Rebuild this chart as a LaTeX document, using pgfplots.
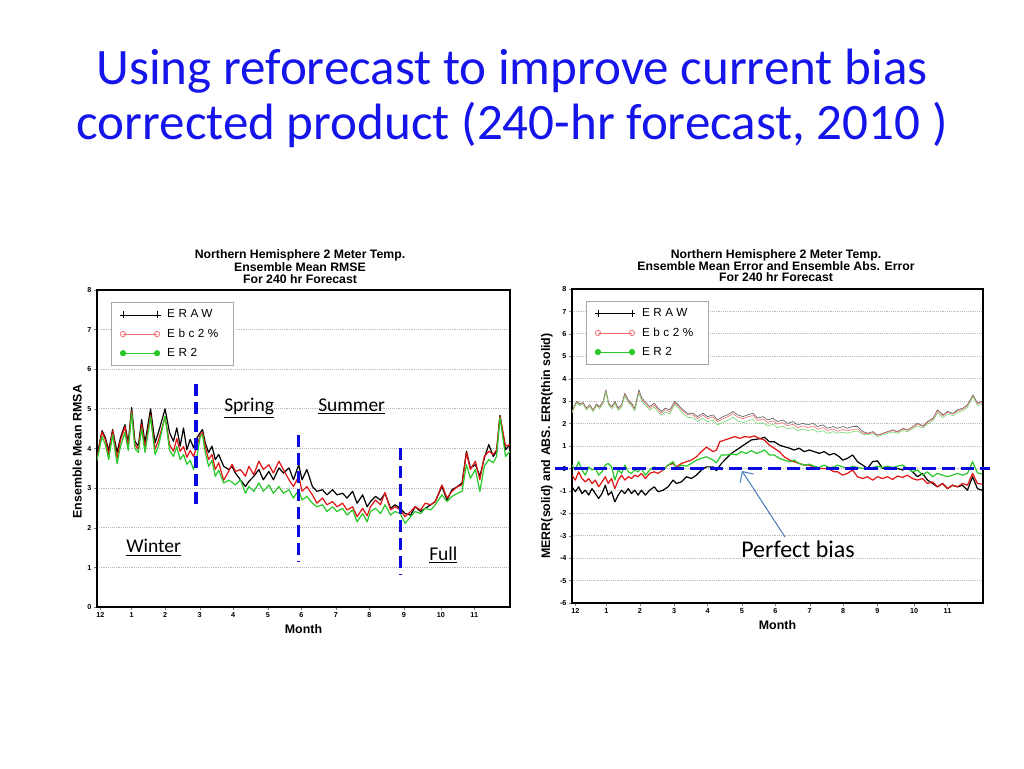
\documentclass[border=0pt]{standalone}
\usepackage{fontspec}
\usepackage{pgfplots}
\pgfplotsset{compat=1.18}
\usetikzlibrary{arrows.meta}
\setmainfont{Carlito}
\newfontfamily\gradsb{Liberation Sans}
\newfontfamily\gradsl[LetterSpace=30]{Liberation Sans}
\definecolor{ttl}{RGB}{20,20,235}
\definecolor{cred}{RGB}{225,20,20}
\definecolor{cgreen}{RGB}{40,200,40}
\definecolor{tred}{RGB}{240,110,110}
\definecolor{tgreen}{RGB}{110,215,110}
\definecolor{tgray}{RGB}{90,90,90}
\definecolor{dblue}{RGB}{10,10,225}
\definecolor{arrowblue}{RGB}{79,129,189}

\pgfplotsset{
 grads/.style={
  scale only axis,
  anchor=south west,
  xmin=-3, xmax=367,
  xtick={0,28,58,89,119,150,180,211,241,272,305,335},
  xticklabels={12,1,2,3,4,5,6,7,8,9,10,11},
  xtick pos=bottom, ytick pos=left,
  tick align=outside,
  major tick length=2.5pt,
  axis line style={line width=1pt},
  ymajorgrids,
  grid style={densely dotted, gray!55, line width=0.6pt},
  tick label style={font=\gradsb\bfseries\fontsize{5.4}{6}\selectfont, text height=4pt, text depth=0pt},
  xticklabel style={anchor=north, inner sep=1.5pt},
  yticklabel style={anchor=east, inner sep=1.5pt},
  /pgf/number format/assume math mode=true,
  xlabel={\gradsb\bfseries\fontsize{9.3}{10}\selectfont Month},
  xlabel style={at={(axis description cs:0.5,-0.069)}, anchor=center},
  legend cell align=left,
  legend image code/.code={\draw[#1] plot coordinates {(0pt,0pt) (25.5pt,0pt)};},
  legend style={at={(0.034,0.962)}, anchor=north west, draw=gray!70, line width=0.8pt,
    fill=white, font=\gradsl\fontsize{8.8}{9}\selectfont, inner xsep=6pt, inner ysep=3.5pt,
    row sep=2.6pt, nodes={inner xsep=5pt}},
  every axis plot/.append style={line join=round},
 }
}

\begin{document}
\begin{tikzpicture}
\useasboundingbox (0pt,0pt) rectangle (768pt,576pt);
\fill[white] (0pt,0pt) rectangle (768pt,576pt);

% ---------------- left panel ----------------
\begin{axis}[grads, at={(72.75pt,120.75pt)}, width=309.75pt, height=237.75pt,
  ymin=0, ymax=8, ytick={0,1,...,8},
  ylabel={\gradsb\bfseries\fontsize{9.3}{10}\selectfont Ensemble Mean RMSA},
  ylabel style={at={(axis description cs:-0.048,0.49)}, anchor=center}]
\addplot[black, line width=0.9pt, forget plot] coordinates {
(-3,3.80) (1.5,4.45) (4.5,4.27) (7.5,3.95) (11,4.48) (15,3.90) (18,4.27) (22,4.60) (25,4.14) (28,5.03) (31,4.18) (34,4.06) (37,4.73) (40,4.14) (45,5.00) (49,4.14) (52,4.40) (58,5.00) (62,4.40) (65.5,4.18) (68.5,4.52) (71.5,4.06) (74.5,4.52) (77.5,3.97) (80.5,4.23) (83.5,4.02) (86.5,4.27) (89.5,4.40) (91.5,4.48) (94,4.14) (97,3.90) (100,4.06) (103,3.72) (106,3.85) (110.5,3.55) (115,3.47) (118,3.55) (121,3.38) (125.5,3.21) (130,3.04) (133,3.17) (137.5,3.30) (142,3.47) (146,3.21) (151,3.42) (155,3.21) (160,3.51) (164,3.38) (169,3.51) (173,3.21) (177.7,3.59) (180.7,3.21) (185,3.47) (190,3.04) (194,2.92) (199,2.96) (203,2.83) (208,2.96) (212,2.83) (217,2.87) (221,2.75) (226,2.92) (230,2.62) (235,2.83) (239,2.53) (242,2.66) (246.5,2.79) (251,2.70) (255,2.87) (260,2.49) (264,2.58) (268.7,2.49) (273,2.36) (278,2.32) (282,2.53) (287,2.41) (291,2.49) (296,2.58) (300,2.66) (306,3.04) (310.6,2.70) (315,2.96) (320,3.04) (324,3.13) (328,3.93) (331.5,3.51) (336,3.59) (340,3.30) (344,3.76) (348,4.10) (352,3.80) (355,3.93) (358,4.84) (363,3.97) (367,4.10)};
\addplot[cred, line width=0.9pt, forget plot] coordinates {
(-3,3.75) (1.5,4.42) (4.5,4.22) (7.5,3.85) (11,4.45) (15,3.75) (18,4.20) (22,4.55) (25,4.05) (28,4.95) (31,4.10) (34,3.98) (37,4.62) (40,4.02) (45,4.85) (49,3.98) (52,4.20) (58,4.80) (62,4.10) (65.5,3.93) (68.5,4.25) (71.5,3.93) (74.5,4.05) (77.5,3.78) (80.5,3.95) (83.5,3.80) (86.5,4.05) (89.5,4.35) (91.5,4.40) (94,4.05) (97,3.72) (100,3.85) (103,3.47) (106,3.64) (110.5,3.20) (115,3.43) (118,3.60) (121,3.42) (125.5,3.47) (130,3.30) (133,3.55) (137.5,3.34) (142,3.68) (146,3.47) (151,3.59) (155,3.38) (160,3.68) (164,3.47) (169,3.21) (173,3.04) (177.7,3.30) (180.7,2.92) (185,3.04) (190,2.83) (194,2.62) (199,2.75) (203,2.58) (208,2.66) (212,2.53) (217,2.62) (221,2.45) (226,2.53) (230,2.28) (235,2.49) (239,2.30) (242,2.53) (246.5,2.70) (251,2.58) (255,2.89) (260,2.45) (264,2.53) (268.7,2.45) (273,2.28) (278,2.41) (282,2.53) (287,2.45) (291,2.62) (296,2.58) (300,2.66) (306,3.08) (310.6,2.75) (315,2.92) (320,3.04) (324,3.08) (328,3.89) (331.5,3.47) (336,3.68) (340,3.21) (344,3.80) (348,3.93) (352,3.85) (355,3.97) (358,4.82) (363,4.06) (367,4.10)};
\addplot[cgreen, line width=0.9pt, forget plot] coordinates {
(-3,3.70) (1.5,4.30) (4.5,4.10) (7.5,3.72) (11,4.35) (15,3.62) (18,4.05) (22,4.40) (25,3.95) (28,4.90) (31,4.00) (34,3.90) (37,4.50) (40,3.90) (45,4.80) (49,3.85) (52,4.05) (58,4.82) (62,3.95) (65.5,3.80) (68.5,4.05) (71.5,3.72) (74.5,3.85) (77.5,3.60) (80.5,3.70) (83.5,3.47) (86.5,3.80) (89.5,4.30) (91.5,4.35) (94,3.90) (97,3.55) (100,3.70) (103,3.30) (106,3.45) (110.5,3.13) (115,3.20) (118,3.15) (121,3.08) (125.5,3.21) (130,2.87) (133,3.04) (137.5,2.92) (142,3.13) (146,2.92) (151,3.08) (155,2.87) (160,3.04) (164,2.87) (169,2.96) (173,2.75) (177.7,2.96) (180.7,2.70) (185,2.79) (190,2.62) (194,2.53) (199,2.58) (203,2.41) (208,2.53) (212,2.41) (217,2.49) (221,2.32) (226,2.45) (230,2.15) (235,2.36) (239,2.15) (242,2.41) (246.5,2.49) (251,2.36) (255,2.58) (260,2.32) (264,2.41) (268.7,2.36) (273,2.11) (278,2.28) (282,2.41) (287,2.36) (291,2.49) (296,2.45) (300,2.58) (306,2.83) (310.6,2.66) (315,2.79) (320,2.87) (324,2.92) (328,3.59) (331.5,3.25) (336,3.47) (340,2.92) (344,3.55) (348,3.72) (352,3.64) (355,3.80) (358,4.78) (363,3.80) (367,3.93)};
\addlegendimage{black, line width=0.5pt, mark=+, mark size=2.6pt}
\addlegendentry{ERAW}
\addlegendimage{tred, line width=0.6pt, mark=o, mark size=2pt}
\addlegendentry{Ebc2\%}
\addlegendimage{cgreen, line width=0.6pt, mark=*, mark size=2pt}
\addlegendentry{ER2}
\end{axis}

% ---------------- right panel ----------------
\begin{axis}[grads, at={(429pt,123.75pt)}, width=308.25pt, height=235.5pt,
  ymin=-6, ymax=8, ytick={-6,-5,...,8},
  ylabel={\gradsb\bfseries\fontsize{9.3}{10}\selectfont MERR(solid) and ABS. ERR(thin solid)},
  ylabel style={at={(axis description cs:-0.061,0.5)}, anchor=center}]
\addplot[tgray, line width=0.45pt, forget plot] coordinates {
(-3,2.54) (1,2.99) (4,2.88) (7,2.94) (10,2.69) (13,2.84) (16,2.61) (19,2.88) (22,2.76) (25,2.99) (27.5,3.51) (30,2.91) (33,2.76) (35.6,2.99) (38.6,2.69) (41.6,2.84) (44.6,3.36) (47.6,3.06) (50.6,2.91) (53.5,2.69) (57.2,3.51) (60,3.13) (64,2.91) (67,2.76) (71,2.91) (74.5,2.69) (77.5,2.54) (81,2.69) (85,2.61) (89.5,2.99) (92.5,2.84) (97,2.61) (101,2.46) (106,2.46) (110,2.31) (115,2.46) (119,2.31) (124,2.39) (128,2.16) (133,2.31) (137,2.39) (142,2.54) (146,2.39) (151,2.31) (155,2.39) (160,2.46) (164,2.24) (169,2.31) (173,2.16) (178,2.24) (182,2.09) (187,2.16) (191,2.01) (196,2.09) (200,1.94) (205,2.01) (209,1.94) (214,2.01) (218,1.87) (223,1.94) (227,1.79) (232,1.87) (236,1.79) (241,1.87) (245,1.79) (250,1.87) (254,1.87) (259,1.64) (263,1.57) (268,1.64) (272,1.49) (277,1.57) (281,1.64) (286,1.72) (290,1.64) (295,1.79) (299,1.72) (304,1.87) (308,2.01) (313,1.90) (317,2.09) (322,2.24) (326,2.61) (331,2.39) (335,2.54) (340,2.46) (344,2.61) (349,2.69) (353,2.84) (358,3.28) (362,2.91) (366,2.99)};
\addplot[tred, line width=0.45pt, forget plot] coordinates {
(-3,2.50) (1,2.95) (4,2.85) (7,2.90) (10,2.66) (13,2.80) (16,2.58) (19,2.84) (22,2.72) (25,2.95) (27.5,3.46) (30,2.87) (33,2.72) (35.6,2.94) (38.6,2.64) (41.6,2.79) (44.6,3.30) (47.6,3.00) (50.6,2.85) (53.5,2.63) (57.2,3.42) (60,3.05) (64,2.84) (67,2.68) (71,2.84) (74.5,2.62) (77.5,2.47) (81,2.62) (85,2.52) (89.5,2.92) (92.5,2.78) (97,2.55) (101,2.40) (106,2.38) (110,2.22) (115,2.38) (119,2.22) (124,2.30) (128,2.08) (133,2.22) (137,2.30) (142,2.44) (146,2.30) (151,2.22) (155,2.30) (160,2.36) (164,2.14) (169,2.20) (173,2.05) (178,2.12) (182,1.98) (187,2.04) (191,1.90) (196,1.97) (200,1.82) (205,1.90) (209,1.82) (214,1.89) (218,1.75) (223,1.82) (227,1.68) (232,1.76) (236,1.66) (241,1.74) (245,1.68) (250,1.74) (254,1.76) (259,1.57) (263,1.55) (268,1.60) (272,1.47) (277,1.55) (281,1.62) (286,1.69) (290,1.62) (295,1.76) (299,1.70) (304,1.84) (308,1.98) (313,1.87) (317,2.05) (322,2.20) (326,2.56) (331,2.34) (335,2.50) (340,2.42) (344,2.57) (349,2.65) (353,2.80) (358,3.24) (362,2.87) (366,2.94)};
\addplot[tgreen, line width=0.45pt, forget plot] coordinates {
(-3,2.48) (1,2.92) (4,2.80) (7,2.86) (10,2.60) (13,2.76) (16,2.52) (19,2.80) (22,2.66) (25,2.90) (27.5,3.40) (30,2.82) (33,2.66) (35.6,2.90) (38.6,2.58) (41.6,2.74) (44.6,3.24) (47.6,2.94) (50.6,2.78) (53.5,2.56) (57.2,3.36) (60,2.98) (64,2.76) (67,2.60) (71,2.74) (74.5,2.52) (77.5,2.38) (81,2.52) (85,2.42) (89.5,2.86) (92.5,2.70) (97,2.44) (101,2.28) (106,2.26) (110,2.10) (115,2.24) (119,2.08) (124,2.15) (128,1.94) (133,2.06) (137,2.14) (142,2.28) (146,2.12) (151,2.04) (155,2.12) (160,2.18) (164,1.98) (169,2.04) (173,1.90) (178,1.96) (182,1.82) (187,1.88) (191,1.76) (196,1.82) (200,1.68) (205,1.76) (209,1.68) (214,1.74) (218,1.62) (223,1.68) (227,1.56) (232,1.64) (236,1.57) (241,1.62) (245,1.57) (250,1.64) (254,1.67) (259,1.52) (263,1.50) (268,1.55) (272,1.42) (277,1.50) (281,1.56) (286,1.63) (290,1.56) (295,1.70) (299,1.64) (304,1.78) (308,1.90) (313,1.80) (317,1.98) (322,2.12) (326,2.48) (331,2.27) (335,2.42) (340,2.36) (344,2.50) (349,2.58) (353,2.73) (358,3.20) (362,2.80) (366,2.86)};
\addplot[black, line width=0.9pt, forget plot] coordinates {
(-3,-0.82) (0,-1.04) (3,-0.82) (6,-1.12) (9,-0.97) (12,-1.19) (15,-0.90) (18,-1.12) (21,-1.34) (24,-1.12) (27,-0.75) (29.6,-1.19) (32.6,-1.04) (35.6,-1.49) (38.6,-1.19) (41.6,-0.97) (44.6,-1.12) (47.6,-0.90) (50.6,-1.12) (53.5,-0.97) (56.5,-1.19) (59.5,-0.97) (63,-1.19) (67,-0.97) (71,-0.82) (74.5,-1.04) (79,-0.97) (83.5,-0.82) (88,-0.52) (91,-0.67) (95.5,-0.60) (100,-0.37) (104.4,-0.45) (109,-0.30) (113.5,-0.07) (118,0.07) (124,0.07) (127,-0.10) (131.5,0.22) (136,0.45) (140.5,0.67) (145,0.82) (149.5,0.97) (154,1.12) (158.4,1.27) (163,1.30) (167.3,1.34) (170.3,1.39) (174.7,1.19) (179,1.19) (183.7,1.04) (188,0.97) (193,0.90) (197,0.82) (201.6,0.90) (206,0.75) (210.6,0.82) (215,0.75) (219.6,0.67) (224,0.75) (228.6,0.60) (233,0.67) (237.6,0.52) (240.6,0.37) (245,0.45) (249.6,0.60) (254,0.30) (258.6,0.15) (263,0.00) (267.6,0.30) (272,0.34) (276.6,0.00) (281,0.04) (285.6,-0.04) (290,0.00) (294.6,-0.07) (299,0.04) (303.6,-0.15) (308,-0.37) (312.6,-0.22) (317,-0.52) (321.6,-0.67) (326,-0.82) (330.6,-0.67) (335,-0.90) (339.6,-0.75) (344,-0.82) (348.6,-0.75) (353,-0.97) (357.6,-0.37) (362,-0.90) (366,-0.97)};
\addplot[cred, line width=0.9pt, forget plot] coordinates {
(-3,-0.30) (0,-0.52) (3,-0.15) (6,-0.45) (9,-0.60) (12,-0.45) (15,-0.67) (18,-0.52) (21,-0.82) (24,-0.60) (27,-0.37) (29.6,-0.67) (32.6,-0.45) (35.6,-0.90) (38.6,-0.52) (41.6,-0.30) (44.6,-0.52) (47.6,-0.37) (50.6,-0.45) (53.5,-0.30) (56.5,-0.37) (59.5,-0.22) (63,-0.45) (67,-0.22) (71,-0.15) (74.5,-0.22) (79,-0.07) (83.5,0.15) (88,0.22) (91,0.07) (95.5,0.22) (100,0.30) (104.4,0.37) (109,0.52) (113.5,0.75) (118,0.95) (124,0.75) (127,0.82) (130,1.19) (134.6,1.27) (139,1.34) (143.5,1.42) (148,1.34) (152.5,1.42) (157,1.39) (161,1.45) (165.8,1.34) (170,1.27) (174.7,1.04) (179,0.90) (183.7,0.75) (188,0.52) (193,0.37) (197,0.30) (201.6,0.22) (206,0.15) (210.6,0.15) (215,0.04) (219.6,0.00) (224,0.00) (228.6,-0.04) (233,-0.15) (236,-0.15) (240.6,-0.30) (245,-0.22) (249.6,-0.07) (254,-0.37) (258.6,-0.45) (263,-0.37) (267.6,-0.52) (272,-0.37) (276.6,-0.45) (281,-0.37) (285.6,-0.49) (290,-0.34) (294.6,-0.40) (299,-0.30) (303.6,-0.45) (308,-0.52) (312.6,-0.45) (317,-0.67) (321.6,-0.60) (326,-0.82) (330.6,-0.67) (335,-0.90) (339.6,-0.75) (344,-0.82) (348.6,-0.67) (353,-0.75) (357.6,-0.22) (362,-0.67) (366,-0.70)};
\addplot[cgreen, line width=0.9pt, forget plot] coordinates {
(-3,0.15) (0,-0.07) (3,0.30) (6,-0.07) (9,-0.30) (12,0.07) (15,-0.07) (18,0.00) (21,-0.30) (24,-0.15) (27,0.15) (29.6,0.22) (32.6,0.07) (35.6,-0.52) (38.6,-0.07) (41.6,-0.22) (44.6,0.15) (47.6,-0.15) (50.6,-0.22) (53.5,-0.07) (56.5,-0.15) (59.5,0.00) (63,-0.30) (67,-0.07) (71,0.07) (74.5,0.00) (79,-0.07) (83.5,0.15) (88,0.30) (91,0.00) (95.5,0.15) (100,0.10) (104.4,0.22) (109,0.37) (113.5,0.45) (118,0.52) (124,0.37) (127,0.25) (131.5,0.60) (136,0.60) (140.5,0.64) (145,0.60) (149.5,0.75) (154,0.67) (158.4,0.79) (163,0.67) (167.3,0.75) (170.3,0.82) (174.7,0.60) (179,0.60) (183.7,0.45) (188,0.37) (193,0.30) (197,0.37) (201.6,0.22) (206,0.15) (210.6,0.19) (215,0.10) (219.6,0.04) (224,0.15) (228.6,0.04) (233,0.07) (236,0.15) (240.6,0.07) (245,0.00) (249.6,0.10) (254,0.04) (258.6,0.00) (263,-0.04) (267.6,0.04) (272,0.10) (276.6,0.04) (281,0.10) (285.6,0.04) (290,0.10) (294.6,0.15) (299,0.00) (303.6,-0.15) (308,-0.07) (312.6,-0.30) (317,-0.15) (321.6,-0.37) (326,-0.22) (330.6,-0.30) (335,-0.37) (339.6,-0.30) (344,-0.22) (348.6,-0.30) (353,-0.22) (357.6,0.30) (362,-0.19) (366,-0.25)};
\addlegendimage{black, line width=0.5pt, mark=+, mark size=2.6pt}
\addlegendentry{ERAW}
\addlegendimage{tred, line width=0.6pt, mark=o, mark size=2pt}
\addlegendentry{Ebc2\%}
\addlegendimage{cgreen, line width=0.6pt, mark=*, mark size=2pt}
\addlegendentry{ER2}
\end{axis}

\begin{scope}[x=0.75pt,y=0.75pt]
% slide title
\node[anchor=base, text=ttl, font=\fontsize{38.3}{40}\selectfont, inner sep=0pt] at (512,683.5) {Using reforecast to improve current bias};
\node[anchor=base, text=ttl, font=\fontsize{38.3}{40}\selectfont, inner sep=0pt] at (512,628) {corrected product (240-hr forecast, 2010 )};

% panel titles
\begin{scope}[every node/.style={anchor=base, inner sep=0pt, font=\gradsb\bfseries\fontsize{9.2}{9.3}\selectfont}]
\node at (300,509) {Northern Hemisphere 2 Meter Temp.};
\node at (300,496.5) {Ensemble Mean RMSE};
\node at (300,484.5) {For 240 hr Forecast};
\node at (776,509.7) {Northern Hemisphere 2 Meter Temp.};
\node at (776,497.3) {Ensemble Mean Error and Ensemble Abs. Error};
\node at (776,486.3) {For 240 hr Forecast};
\end{scope}

% season markers (left panel)
\begin{scope}[dblue, line width=2.6pt, dash pattern=on 9pt off 4.5pt]
\draw (196,384) -- (196,258);
\draw (298.3,333) -- (298.3,206);
\draw (400.7,320) -- (400.7,193);
\end{scope}
\begin{scope}[every node/.style={anchor=base west, inner sep=0pt, font=\fontsize{14.6}{16}\selectfont}]
\node at (224,356.3) {\underline{Spring}};
\node at (318,356.3) {\underline{Summer}};
\node at (126,215) {\underline{Winter}};
\node at (429,208) {\underline{Full}};
\end{scope}

% perfect bias line and arrow (right panel)
\draw[dblue, line width=2.3pt, dash pattern=on 10pt off 4.5pt] (555,299.6) -- (990,299.6);
\draw[arrowblue, line width=0.8pt, -{Straight Barb[length=6pt]}] (785,231) -- (742,297);
\node[anchor=base, inner sep=0pt, font=\fontsize{18}{20}\selectfont] at (798,211) {Perfect bias};
\end{scope}
\end{tikzpicture}
\end{document}
